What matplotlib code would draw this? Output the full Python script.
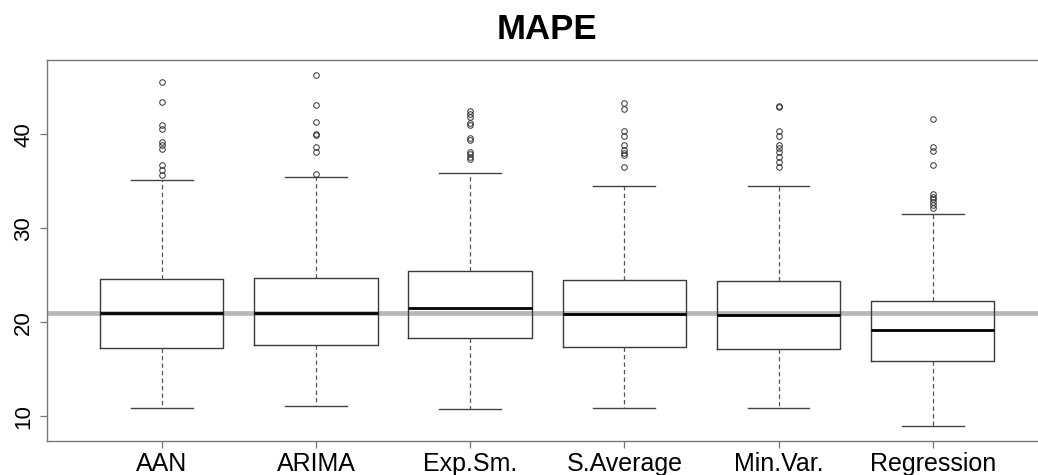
import numpy as np
import matplotlib
matplotlib.use("Agg")
import matplotlib.pyplot as plt

plt.rcParams["font.family"] = ["Liberation Sans", "DejaVu Sans"]

# values
methods = ["AAN", "ARIMA", "Exp.Sm.", "S.Average", "Min.Var.", "Regression"]
q1 = [17.3, 17.6, 18.3, 17.35, 17.15, 15.9]
medians = [20.96, 20.95, 21.5, 20.92, 20.78, 19.18]
q3 = [24.57, 24.7, 25.42, 24.5, 24.35, 22.3]
whisk_lo = [10.85, 11.1, 10.75, 10.9, 10.85, 8.98]
whisk_hi = [35.12, 35.4, 35.83, 34.5, 34.5, 31.5]
outliers = [
    [45.5, 43.4, 40.97, 40.6, 39.2, 38.8, 38.4, 36.7, 36.2, 35.65],
    [46.3, 43.1, 41.25, 40.0, 39.9, 38.66, 38.13, 35.8],
    [42.49, 42.14, 41.85, 41.15, 40.93, 39.55, 39.37, 38.13, 37.89, 37.6, 37.32],
    [43.27, 42.67, 40.36, 39.8, 38.9, 38.3, 38.0, 37.78, 36.54],
    [43.0, 42.9, 40.36, 39.8, 38.84, 38.5, 38.13, 37.6, 37.07, 36.54],
    [41.6, 38.66, 38.24, 36.7, 33.6, 33.35, 33.07, 32.78, 32.5, 32.2],
]
ref_level = 21.02

stats = []
for i in range(len(methods)):
    stats.append({"label": methods[i], "q1": q1[i], "med": medians[i], "q3": q3[i],
                  "whislo": whisk_lo[i], "whishi": whisk_hi[i], "fliers": outliers[i]})

fig = plt.figure(figsize=(10.38, 4.75), dpi=100)
ax = fig.add_axes([0.045, 0.0716, 0.9644, 0.802])

ax.axhline(ref_level, color="#b8b8b8", lw=3.4, zorder=1.5)

ax.bxp(stats, positions=np.arange(1, 7), widths=0.8, showfliers=True,
       boxprops=dict(color="#3a3a3a", lw=1.0),
       whiskerprops=dict(color="#555555", lw=0.9, linestyle=(0, (3.5, 2.5))),
       capprops=dict(color="#444444", lw=1.0),
       medianprops=dict(color="black", lw=2.0, zorder=3),
       flierprops=dict(marker="o", markersize=4, markerfacecolor="none",
                       markeredgecolor="#333333", markeredgewidth=0.7))

ax.set_xlim(0.254, 6.746)
ax.set_ylim(7.39, 47.88)
ax.set_yticks([10, 20, 30, 40])
ax.set_xticks(np.arange(1, 7))
ax.set_xticklabels(methods, fontsize=18)
for lbl in ax.get_yticklabels():
    lbl.set_rotation(90)
    lbl.set_va("center")
    lbl.set_fontsize(16)

for sp in ax.spines.values():
    sp.set_color("#777777")
    sp.set_linewidth(1.0)
ax.tick_params(axis="both", length=5, width=0.9, color="#777777")
ax.tick_params(axis="x", pad=3)
ax.tick_params(axis="y", pad=4)

ax.set_title("MAPE", fontsize=25, fontweight="bold", pad=15)

fig.savefig("out.png", dpi=100)
